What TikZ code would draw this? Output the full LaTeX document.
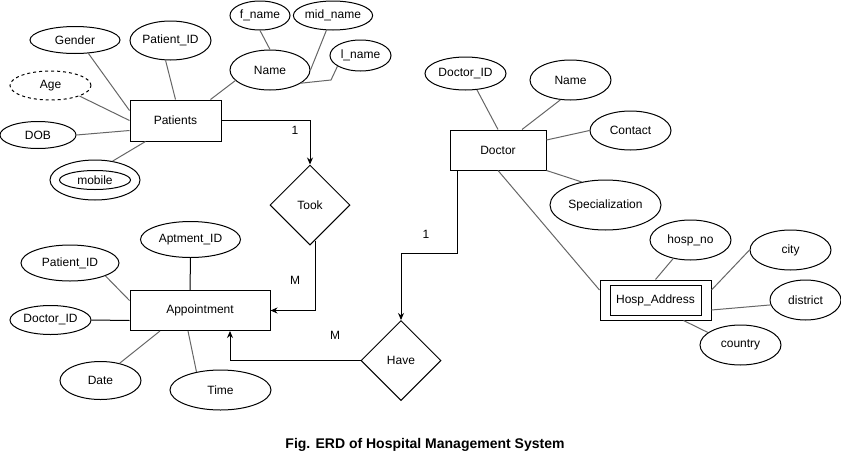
\documentclass[tikz,border=0pt]{standalone}
\usepackage{fontspec}
\setmainfont{Liberation Sans}
\usetikzlibrary{arrows.meta, shapes.geometric}

\begin{document}
\begin{tikzpicture}[x=1pt, y=-1pt,
        font=\fontsize{12}{14}\selectfont,
        attr/.style={draw, ellipse, line width=1pt, inner sep=0pt},
        entity/.style={draw, rectangle, line width=1pt, inner sep=0pt},
        rel/.style={draw, diamond, line width=1pt, inner sep=0pt, minimum width=80pt, minimum height=80pt},
        link/.style={line width=1pt, draw=black!60},
        flow/.style={line width=1pt, -{Stealth[length=7pt, width=6pt]}}]
            \useasboundingbox (0,0) rectangle (841,461);

            % Patients and its attributes
            \node (patients) [entity, minimum width=91pt, minimum height=41pt] at (175.5,120.5) {Patients};
            \node (gender) [attr, minimum width=90pt, minimum height=27pt] at (75,40) {Gender};
            \node (patient_id) [attr, minimum width=81pt, minimum height=39pt] at (170.5,40.5) {Patient\_ID};
            \node (age) [attr, dash pattern=on 3pt off 3pt, minimum width=81pt, minimum height=29pt] at (50.5,85.5) {Age};
            \node (dob) [attr, minimum width=76pt, minimum height=27pt] at (38,135) {DOB};
            \node (mobile) [attr, minimum width=90pt, minimum height=40pt] at (95,180) {};
            \node (mobile_in) [attr, minimum width=71pt, minimum height=19pt] at (mobile) {mobile};
            \node (name) [attr, minimum width=80pt, minimum height=40pt] at (270,70) {Name};
            \node (f_name) [attr, minimum width=60pt, minimum height=29pt] at (260,15.5) {f\_name};
            \node (mid_name) [attr, minimum width=76pt, minimum height=29pt] at (333,15.5) {mid\_name};
            \node (l_name) [attr, minimum width=61pt, minimum height=31pt] at (360.5,55.5) {l\_name};
            \coordinate (l_name_bend) at (331,80);

            \draw[link] (gender.-45) -- ([yshift=10pt]patients.west);
            \draw[link] (patient_id.-104) -- (patients.north);
            \draw[link] (age.-20) -- (patients.west);
            \draw[link] (dob.east) -- ([yshift=-10pt]patients.west);
            \draw[link] (mobile.47) -- ([xshift=-30pt]patients.south);
            \draw[link] (name.197) -- ([xshift=35pt]patients.north);
            \draw[link] (f_name.south) -- (name.north);
            \draw[link] (mid_name.-114) -- (name.east);
            \draw[link] (l_name.205) -- (l_name_bend) -- (name.-23);

            % Took
            \node (took) [rel] at (310,205) {Took};
            \draw[flow] (patients.east) -| (took.north);
            \node (one_took) at (295,130) {1};

            % Appointment and its attributes
            \node (appointment) [entity, minimum width=140pt, minimum height=40pt] at (200,310.5) {Appointment};
            \node (aptment_id) [attr, minimum width=100pt, minimum height=36pt] at (190.5,239.5) {Aptment\_ID};
            \node (appt_patient_id) [attr, minimum width=98pt, minimum height=36pt] at (70,263) {Patient\_ID};
            \node (appt_doctor_id) [attr, minimum width=81pt, minimum height=29pt] at (50.5,320) {Doctor\_ID};
            \node (date) [attr, minimum width=81pt, minimum height=38pt] at (100.5,380.5) {Date};
            \node (time) [attr, minimum width=101pt, minimum height=40pt] at (220.5,390) {Time};

            \draw[line width=1pt] (aptment_id.south) -- ([xshift=-10pt]appointment.north);
            \draw[link] (appt_patient_id.-20) -- ([yshift=10pt]appointment.west);
            \draw[line width=1pt] (appt_doctor_id.east) -- ([yshift=-10pt]appointment.west);
            \draw[link] (date.42) -- ([xshift=-40pt]appointment.south);
            \draw[link] (time.143) -- ([xshift=-12pt]appointment.south);

            \draw[flow] ([xshift=5pt, yshift=5pt]took.south) |- (appointment.east);
            \node (m_took) at (295,280) {M};

            % Doctor and its attributes
            \node (doctor) [entity, minimum width=96pt, minimum height=40pt] at (498,150) {Doctor};
            \node (doctor_id) [attr, minimum width=81pt, minimum height=33pt] at (465.5,73.5) {Doctor\_ID};
            \node (doctor_name) [attr, minimum width=81pt, minimum height=40pt] at (570.5,80) {Name};
            \node (contact) [attr, minimum width=81pt, minimum height=39pt] at (630.5,130.5) {Contact};
            \node (specialization) [attr, minimum width=111pt, minimum height=50pt] at (605.5,205) {Specialization};

            \draw[link] (doctor_id.-55) -- (doctor.north);
            \draw[link] (doctor_name.-117) -- ([xshift=24pt]doctor.north);
            \draw[link] (contact.west) -- ([yshift=10pt]doctor.east);
            \draw[link] (specialization.136) -- (doctor.south east);

            % Hosp_Address (weak entity)
            \node (hosp_address) [entity, minimum width=111pt, minimum height=40pt] at (655.5,300) {};
            \node (hosp_address_in) [entity, minimum width=91pt, minimum height=30pt] at (hosp_address) {Hosp\_Address};
            \node (hosp_no) [attr, minimum width=81pt, minimum height=40pt] at (690.5,240) {hosp\_no};
            \node (city) [attr, minimum width=81pt, minimum height=40pt] at (790.5,250) {city};
            \node (district) [attr, minimum width=71pt, minimum height=40pt] at (805.5,300) {district};
            \node (country) [attr, minimum width=81pt, minimum height=40pt] at (740.5,345) {country};

            \draw[link] (doctor.south) -- ([yshift=10pt]hosp_address.west);
            \draw[link] (hosp_no.-133) -- (hosp_address.north);
            \draw[link] (city.west) -- ([yshift=10pt]hosp_address.east);
            \draw[link] (district.188) -- ([yshift=-10pt]hosp_address.east);
            \draw[link] (country.159) -- ([xshift=28pt]hosp_address.south);

            % Have
            \node (have) [rel] at (401,360.5) {Have};
            \draw[flow] ([xshift=-41pt]doctor.south) |- ([yshift=67pt]have.north) -- (have.north);
            \node (one_have) at (426,234) {1};
            \draw[flow] (have.west) -| ([xshift=30pt]appointment.south);
            \node (m_have) at (335,335) {M};

            \node (caption) at (425,445) {\fontsize{14}{16}\selectfont\bfseries Fig. ERD of Hospital Management System};
\end{tikzpicture}
\end{document}
